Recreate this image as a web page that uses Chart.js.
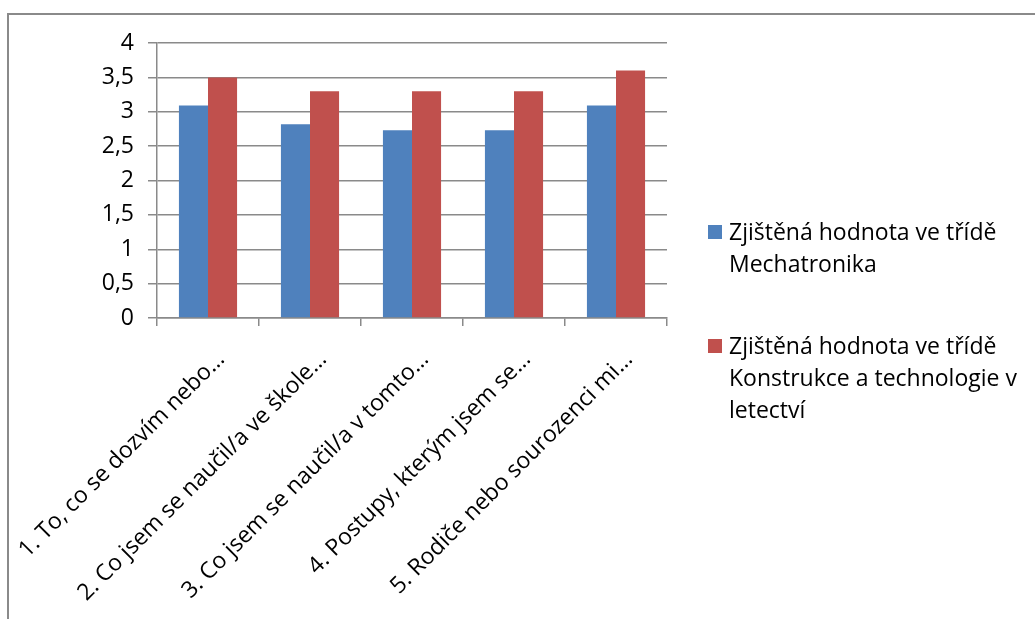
<!DOCTYPE html>
<html lang="cs">
<head>
<meta charset="utf-8">
<title>Zjištěné hodnoty</title>
<script src="https://cdn.jsdelivr.net/npm/chart.js@4.4.0/dist/chart.umd.min.js"></script>
<style>
  html, body { margin: 0; padding: 0; background: #fff; }
  #wrap { width: 1035px; height: 619px; position: relative; }
</style>
</head>
<body>
<div id="wrap"><canvas id="graf" width="1035" height="619"></canvas></div>
<script>
// otázky (zkrácené popisky osy x)
const otazky = [
    '1. To, co se dozvím nebo…',
    '2. Co jsem se naučil/a ve škole…',
    '3. Co jsem se naučil/a v tomto…',
    '4. Postupy, kterým jsem se…',
    '5. Rodiče nebo sourozenci mi…'
];
const mechatronika = [3.09, 2.82, 2.73, 2.73, 3.09];
const letectvi = [3.5, 3.3, 3.3, 3.3, 3.6];
const nazevMechatronika = ['Zjištěná hodnota ve třídě', 'Mechatronika'];
const nazevLetectvi = ['Zjištěná hodnota ve třídě', 'Konstrukce a technologie v', 'letectví'];
const stupnice = [0, 0.5, 1, 1.5, 2, 2.5, 3, 3.5, 4];

const seda = '#8a8a8a';
const pismo = '"Open Sans", Lato, sans-serif';

// rámeček nahoře a vlevo
const ramecek = {
    id: 'ramecek',
    beforeDraw(chart) {
        const c = chart.ctx;
        c.save();
        c.strokeStyle = seda;
        c.lineWidth = 2;
        c.beginPath();
        c.moveTo(8, 619);
        c.lineTo(8, 14);
        c.lineTo(1035, 14);
        c.stroke();
        c.restore();
    }
};

// legenda vpravo, víceřádkové popisky
const legenda = {
    id: 'legenda',
    afterDraw(chart) {
        const c = chart.ctx;
        const x = chart.chartArea.right + 41;
        let y = 232;
        c.save();
        c.font = '23px ' + pismo;
        c.textBaseline = 'middle';
        c.fillStyle = '#000';
        chart.data.datasets.forEach(ds => {
            c.fillStyle = ds.backgroundColor;
            c.fillRect(x, y - 7, 14, 14);
            c.fillStyle = '#000';
            ds.label.forEach((radek, i) => {
                c.fillText(radek, x + 21, y + 1 + i * 32);
            });
            y += 114;
        });
        c.restore();
    }
};

const ctx = document.getElementById('graf').getContext('2d');
const graf = new Chart(ctx, {
    type: 'bar',
    data: {
        labels: otazky,
        datasets: [
            {
                label: nazevMechatronika,
                data: mechatronika,
                backgroundColor: '#4f81bd',
                categoryPercentage: 0.57,
                barPercentage: 1
            },
            {
                label: nazevLetectvi,
                data: letectvi,
                backgroundColor: '#c0504d',
                categoryPercentage: 0.57,
                barPercentage: 1
            }
        ]
    },
    options: {
        responsive: false,
        animation: false,
        layout: { padding: { top: 43, right: 368, left: 0, bottom: 0 } },
        plugins: {
            legend: { display: false },
            tooltip: { enabled: false }
        },
        scales: {
            x: {
                afterFit(scale) {
                    scale.height = 301;
                    scale.paddingLeft = 0;
                    scale.paddingRight = 0;
                },
                grid: {
                    offset: true,
                    drawOnChartArea: false,
                    drawTicks: true,
                    tickLength: 8,
                    color: seda,
                    lineWidth: 1.5
                },
                border: { color: seda, width: 1.5 },
                ticks: {
                    autoSkip: false,
                    minRotation: 45,
                    maxRotation: 45,
                    color: '#000',
                    padding: 20,
                    labelOffset: 13,
                    font: { family: pismo, size: 23 }
                }
            },
            y: {
                min: 0,
                max: 4,
                afterFit(scale) {
                    scale.width = 157;
                    scale.paddingTop = 0;
                    scale.paddingBottom = 0;
                },
                afterBuildTicks(scale) {
                    scale.ticks = stupnice.map(v => ({ value: v }));
                },
                grid: {
                    color: seda,
                    lineWidth: 1.5,
                    tickLength: 9
                },
                border: { color: seda, width: 1.5 },
                ticks: {
                    color: '#000',
                    padding: 14,
                    font: { family: pismo, size: 23 },
                    callback: v => String(v).replace('.', ',')
                }
            }
        }
    },
    plugins: [ramecek, legenda]
});
</script>
</body>
</html>
